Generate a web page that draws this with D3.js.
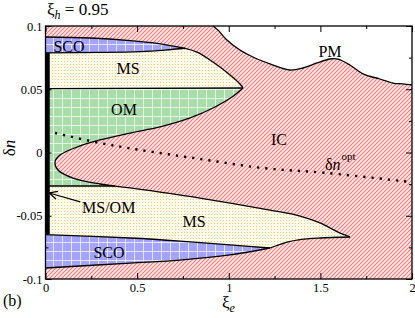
<!DOCTYPE html>
<html>
<head>
<meta charset="utf-8">
<script src="https://cdnjs.cloudflare.com/ajax/libs/d3/7.8.5/d3.min.js"></script>
<style>
body { margin: 0; background: #fff; }
svg { display: block; font-family: "Liberation Serif", "Times New Roman", serif; }
</style>
</head>
<body>
<svg id="chart" width="415" height="318"></svg>
<script>
// axes
var xDomain = [0, 2];
var yDomain = [-0.1, 0.1];
var xTicks = [0, 0.5, 1, 1.5, 2];
var xTickLabels = ["0", "0.5", "1", "1.5", "2"];
var xMinor = [0.25, 0.75, 1.25, 1.75];
var yTicks = [-0.1, -0.05, 0, 0.05, 0.1];
var yTickLabels = ["-0.1", "-0.05", "0", "0.05", "0.1"];
var yMinor = [-0.075, -0.025, 0.025, 0.075];

// phase boundaries [xi_e, delta n]
var pmBoundary = [[0.914,0.1],[0.941,0.0968],[0.99,0.0889],[1.061,0.081],[1.143,0.0747],[1.225,0.070],[1.334,0.0652],[1.405,0.0668],[1.482,0.0708],[1.553,0.0739],[1.596,0.0739],[1.661,0.0692],[1.732,0.0621],[1.825,0.0581],[1.896,0.0549],[1.95,0.0542],[2.0,0.0534]];
var scoUpperTop = [[0,0.0913],[0.243,0.0905],[0.461,0.0885],[0.608,0.0863],[0.762,0.0824]];
var scoUpperBottom = [[0,0.0787],[0.297,0.0791],[0.516,0.0798],[0.652,0.081],[0.762,0.0824]];
var msUpperRight = [[0.762,0.0824],[0.827,0.0794],[0.914,0.0715],[1.007,0.0613],[1.061,0.0542],[1.078,0.051]];
var msOmUpper = [[0,0.0505],[1.078,0.051]];
var icNose = [[1.078,0.051],[1.018,0.0439],[0.925,0.036],[0.789,0.0273],[0.625,0.0202],[0.461,0.0154],[0.297,0.0099],[0.172,0.0043],[0.079,-0.002],[0.052,-0.0075],[0.068,-0.0138],[0.150,-0.0202],[0.297,-0.0249],[0.38,-0.0265]];
var msOmLower = [[0,-0.0265],[0.38,-0.0265]];
var icLower = [[0.38,-0.0265],[0.461,-0.028],[0.843,-0.036],[1.225,-0.0455],[1.389,-0.0502],[1.498,-0.0557],[1.591,-0.0625],[1.662,-0.0668]];
var msLowerBottom = [[1.662,-0.0668],[1.498,-0.0676],[1.389,-0.0688],[1.318,-0.0708],[1.225,-0.0755]];
var scoLowerTop = [[1.225,-0.0755],[1.007,-0.0731],[0.734,-0.070],[0.461,-0.0676],[0,-0.065]];
var scoLowerBottom = [[0,-0.0913],[0.461,-0.0874],[0.734,-0.085],[1.007,-0.081],[1.225,-0.0755]];
var dnOpt = [[0.052,0.0154],[0.297,0.0075],[0.516,0.002],[0.843,-0.0051],[1.187,-0.0123],[1.536,-0.0162],[1.989,-0.0233]];
var msOmBar = [[0,0.0787],[0,-0.0645]];
var msOmArrow = [[0.19,-0.039],[0.02,-0.032]];

var svg = d3.select("#chart");
var pLeft = 45.5, pRight = 412, pTop = 26, pBottom = 279;
var x = d3.scaleLinear().domain(xDomain).range([pLeft, pRight]);
var y = d3.scaleLinear().domain(yDomain).range([pBottom, pTop]);

var defs = svg.append("defs");
defs.append("clipPath").attr("id", "plotClip").append("rect")
  .attr("x", pLeft).attr("y", pTop).attr("width", pRight - pLeft).attr("height", pBottom - pTop);

// red hatch for IC
var pRed = defs.append("pattern").attr("id", "icPat").attr("patternUnits", "userSpaceOnUse")
  .attr("width", 4).attr("height", 4);
pRed.append("rect").attr("width", 4).attr("height", 4).attr("fill", "#ffecec");
pRed.append("path").attr("d", "M-1,1 l2,-2 M0,4 l4,-4 M3,5 l2,-2")
  .attr("stroke", "#ff7878").attr("stroke-width", 1.1);

// gridded fills for SCO and OM
function gridFill(id, col) {
  var p = defs.append("pattern").attr("id", id).attr("patternUnits", "userSpaceOnUse")
    .attr("width", 9).attr("height", 9);
  p.append("rect").attr("width", 9).attr("height", 9).attr("fill", col);
  p.append("path").attr("d", "M8.5,0V9M0,8.5H9").attr("stroke", "#fff").attr("stroke-width", 1).attr("stroke-opacity", 0.7);
}
gridFill("scoPat", "#a4a4ff");
gridFill("omPat", "#a8dca8");

// dotted yellow for MS
var pMs = defs.append("pattern").attr("id", "msPat").attr("patternUnits", "userSpaceOnUse")
  .attr("width", 3).attr("height", 3);
pMs.append("rect").attr("width", 3).attr("height", 3).attr("fill", "#fffbea");
pMs.append("rect").attr("x", 1).attr("y", 1).attr("width", 1).attr("height", 1)
  .attr("fill", "#f8cc78").attr("shape-rendering", "crispEdges");

var line = d3.line().x(function(d){ return x(d[0]); }).y(function(d){ return y(d[1]); }).curve(d3.curveCatmullRom.alpha(0.5));
var poly = d3.line().x(function(d){ return x(d[0]); }).y(function(d){ return y(d[1]); });

var plot = svg.append("g").attr("clip-path", "url(#plotClip)");

// background IC
plot.append("rect").attr("x", pLeft).attr("y", pTop).attr("width", pRight - pLeft).attr("height", pBottom - pTop)
  .attr("fill", "url(#icPat)");

// PM region
plot.append("path").attr("d", line(pmBoundary) + "L" + x(2.05) + "," + y(0.0534) + "L" + x(2.05) + "," + y(0.11) + "L" + x(0.914) + "," + y(0.11) + "Z")
  .attr("fill", "#fff");

function rev(a) { return a.slice().reverse(); }

// SCO upper
plot.append("path").attr("d", line(scoUpperTop) + line(rev(scoUpperBottom)).replace("M", "L") + "Z").attr("fill", "url(#scoPat)");
// MS upper
plot.append("path").attr("d", line(scoUpperBottom) + line(msUpperRight).replace("M", "L") + poly(rev(msOmUpper)).replace("M", "L") + "Z").attr("fill", "url(#msPat)");
// OM
plot.append("path").attr("d", poly(msOmUpper) + line(icNose).replace("M", "L") + "L" + x(0) + "," + y(-0.0265) + "Z").attr("fill", "url(#omPat)");
// MS lower
plot.append("path").attr("d", poly(msOmLower) + line(icLower).replace("M", "L") + line(msLowerBottom).replace("M", "L") + line(scoLowerTop).replace("M", "L") + "Z").attr("fill", "url(#msPat)");
// SCO lower
plot.append("path").attr("d", line(scoLowerBottom) + line(scoLowerTop).replace("M", "L") + "Z").attr("fill", "url(#scoPat)");

// boundary lines
var bounds = [pmBoundary, scoUpperTop, scoUpperBottom, msUpperRight, icNose, icLower, msLowerBottom, scoLowerTop, scoLowerBottom];
bounds.forEach(function(b) {
  plot.append("path").attr("d", line(b)).attr("fill", "none").attr("stroke", "#000").attr("stroke-width", 1.3);
});
[msOmUpper, msOmLower].forEach(function(b) {
  plot.append("path").attr("d", poly(b)).attr("fill", "none").attr("stroke", "#000").attr("stroke-width", 1.3);
});

// optimal doping
plot.append("path").attr("d", line(dnOpt)).attr("fill", "none").attr("stroke", "#000")
  .attr("stroke-width", 2.4).attr("stroke-dasharray", "2.2,6");

// MS/OM bar
svg.append("line").attr("x1", x(msOmBar[0][0]) + 2).attr("x2", x(msOmBar[1][0]) + 2)
  .attr("y1", y(msOmBar[0][1])).attr("y2", y(msOmBar[1][1]))
  .attr("stroke", "#000").attr("stroke-width", 4.5);

// frame and axes
svg.append("rect").attr("x", pLeft).attr("y", pTop).attr("width", pRight - pLeft).attr("height", pBottom - pTop)
  .attr("fill", "none").attr("stroke", "#000").attr("stroke-width", 1.3);

function styleAxis(g) {
  g.select(".domain").remove();
  g.selectAll("line").attr("stroke", "#000").attr("stroke-width", 1);
  g.selectAll("text").attr("font-family", "Liberation Serif").attr("font-size", 12.5).attr("fill", "#000");
}
svg.append("g").attr("transform", "translate(0," + pBottom + ")")
  .call(d3.axisBottom(x).tickValues(xTicks).tickSize(-6).tickPadding(4)
    .tickFormat(function(d, i){ return xTickLabels[i]; })).call(styleAxis);
svg.append("g").attr("transform", "translate(0," + pBottom + ")")
  .call(d3.axisBottom(x).tickValues(xMinor).tickSize(-3).tickFormat("")).call(styleAxis);
svg.append("g").attr("transform", "translate(0," + pTop + ")")
  .call(d3.axisTop(x).tickValues(xTicks).tickSize(-6).tickFormat("")).call(styleAxis);
svg.append("g").attr("transform", "translate(0," + pTop + ")")
  .call(d3.axisTop(x).tickValues(xMinor).tickSize(-3).tickFormat("")).call(styleAxis);
svg.append("g").attr("transform", "translate(" + pLeft + ",0)")
  .call(d3.axisLeft(y).tickValues(yTicks).tickSize(-6).tickPadding(3)
    .tickFormat(function(d, i){ return yTickLabels[i]; })).call(styleAxis);
svg.append("g").attr("transform", "translate(" + pLeft + ",0)")
  .call(d3.axisLeft(y).tickValues(yMinor).tickSize(-3).tickFormat("")).call(styleAxis);
svg.append("g").attr("transform", "translate(" + pRight + ",0)")
  .call(d3.axisRight(y).tickValues(yTicks).tickSize(-6).tickFormat("")).call(styleAxis);
svg.append("g").attr("transform", "translate(" + pRight + ",0)")
  .call(d3.axisRight(y).tickValues(yMinor).tickSize(-3).tickFormat("")).call(styleAxis);

// region labels
function label(txt, px, py, anchor) {
  return svg.append("text").attr("x", px).attr("y", py).attr("font-size", 16)
    .attr("text-anchor", anchor || "middle").text(txt);
}
label("SCO", 69, 52);
label("MS", 128, 74);
label("OM", 124, 115);
label("PM", 330, 57);
label("IC", 279, 145);
label("MS", 194, 227);
label("SCO", 109, 258);
label("MS/OM", 82, 213, "start");

var dl = svg.append("text").attr("x", 325).attr("y", 170).attr("font-size", 16);
dl.append("tspan").text("δ");
dl.append("tspan").attr("font-style", "italic").text("n");
dl.append("tspan").attr("font-size", 11).attr("dy", -10).attr("dx", 1).text("opt");

// arrow to the MS/OM bar
var a0 = [x(msOmArrow[0][0]), y(msOmArrow[0][1])], a1 = [x(msOmArrow[1][0]), y(msOmArrow[1][1])];
var ang = Math.atan2(a0[1] - a1[1], a0[0] - a1[0]);
svg.append("path")
  .attr("d", "M" + a0 + "L" + a1
    + "M" + [a1[0] + 9 * Math.cos(ang + 0.45), a1[1] + 9 * Math.sin(ang + 0.45)] + "L" + a1
    + "L" + [a1[0] + 9 * Math.cos(ang - 0.45), a1[1] + 9 * Math.sin(ang - 0.45)])
  .attr("fill", "none").attr("stroke", "#000").attr("stroke-width", 1.2);

// title and axis labels
var t = svg.append("text").attr("x", 47).attr("y", 15).attr("font-size", 17);
t.append("tspan").text("ξ");
t.append("tspan").attr("font-size", 12).attr("font-style", "italic").attr("dy", 4).text("h");
t.append("tspan").attr("dy", -4).text(" = 0.95");

var xl = svg.append("text").attr("x", 222).attr("y", 308).attr("font-size", 17);
xl.append("tspan").text("ξ");
xl.append("tspan").attr("font-size", 12).attr("font-style", "italic").attr("dy", 4).text("e");

var yl = svg.append("text").attr("transform", "translate(15,148) rotate(-90)")
  .attr("text-anchor", "middle").attr("font-size", 17);
yl.append("tspan").text("δ");
yl.append("tspan").attr("font-style", "italic").text("n");

svg.append("text").attr("x", 3).attr("y", 306).attr("font-size", 16).text("(b)");
</script>
</body>
</html>
